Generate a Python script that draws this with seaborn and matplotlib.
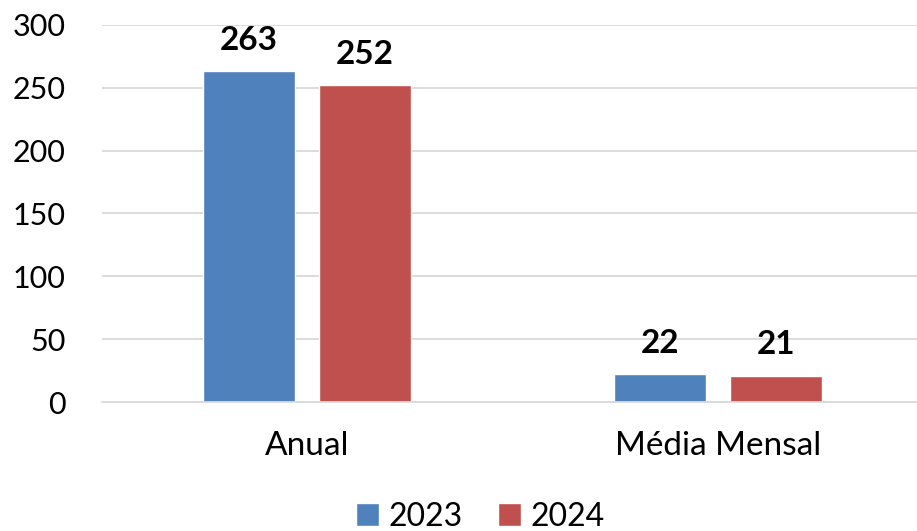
import pandas as pd
import seaborn as sns
import matplotlib.pyplot as plt

# chart values
categories = ['Anual', 'Média Mensal']
years = ['2023', '2024']
values_2023 = [263, 22]
values_2024 = [252, 21]

df = pd.DataFrame({
    'categoria': categories * 2,
    'ano': [years[0]] * 2 + [years[1]] * 2,
    'valor': values_2023 + values_2024,
})

sns.set_style('white')
plt.rcParams['font.family'] = ['Lato', 'DejaVu Sans']
plt.rcParams['text.color'] = 'black'
plt.rcParams['xtick.color'] = 'black'
plt.rcParams['ytick.color'] = 'black'

fig = plt.figure(figsize=(9.17, 5.31), dpi=100)
ax = fig.add_axes([101.5 / 917, 1 - 402 / 531, 822 / 917, 377 / 531])

palette = {'2023': '#4F81BD', '2024': '#C0504D'}
sns.barplot(data=df, x='categoria', y='valor', hue='ano', palette=palette,
            width=0.565, gap=0.21, saturation=1, ax=ax, legend=True)

# value labels on top of bars
for cont in ax.containers:
    ax.bar_label(cont, fmt='%d', padding=12, fontsize=24, fontweight='bold')

ax.set_ylim(0, 300)
ax.set_xlim(-0.5, 1.5)
ax.set_yticks(range(0, 301, 50))
ax.yaxis.grid(True, color='#D9D9D9', linewidth=1.3)
ax.set_axisbelow(True)
for s in ['top', 'right', 'left']:
    ax.spines[s].set_visible(False)
ax.spines['bottom'].set_color('#D9D9D9')
ax.spines['bottom'].set_linewidth(1.3)
ax.tick_params(axis='y', labelsize=22, length=0, pad=26)
ax.tick_params(axis='x', labelsize=24, length=0, pad=21)
ax.set_xlabel('')
ax.set_ylabel('')

ax.legend(loc='center', bbox_to_anchor=(480 / 917, 14 / 531),
          bbox_transform=fig.transFigure, ncol=2, frameon=False, fontsize=23,
          handlelength=0.72, handleheight=0.72, handletextpad=0.3,
          columnspacing=1.1)

fig.savefig('out.png', dpi=100)
